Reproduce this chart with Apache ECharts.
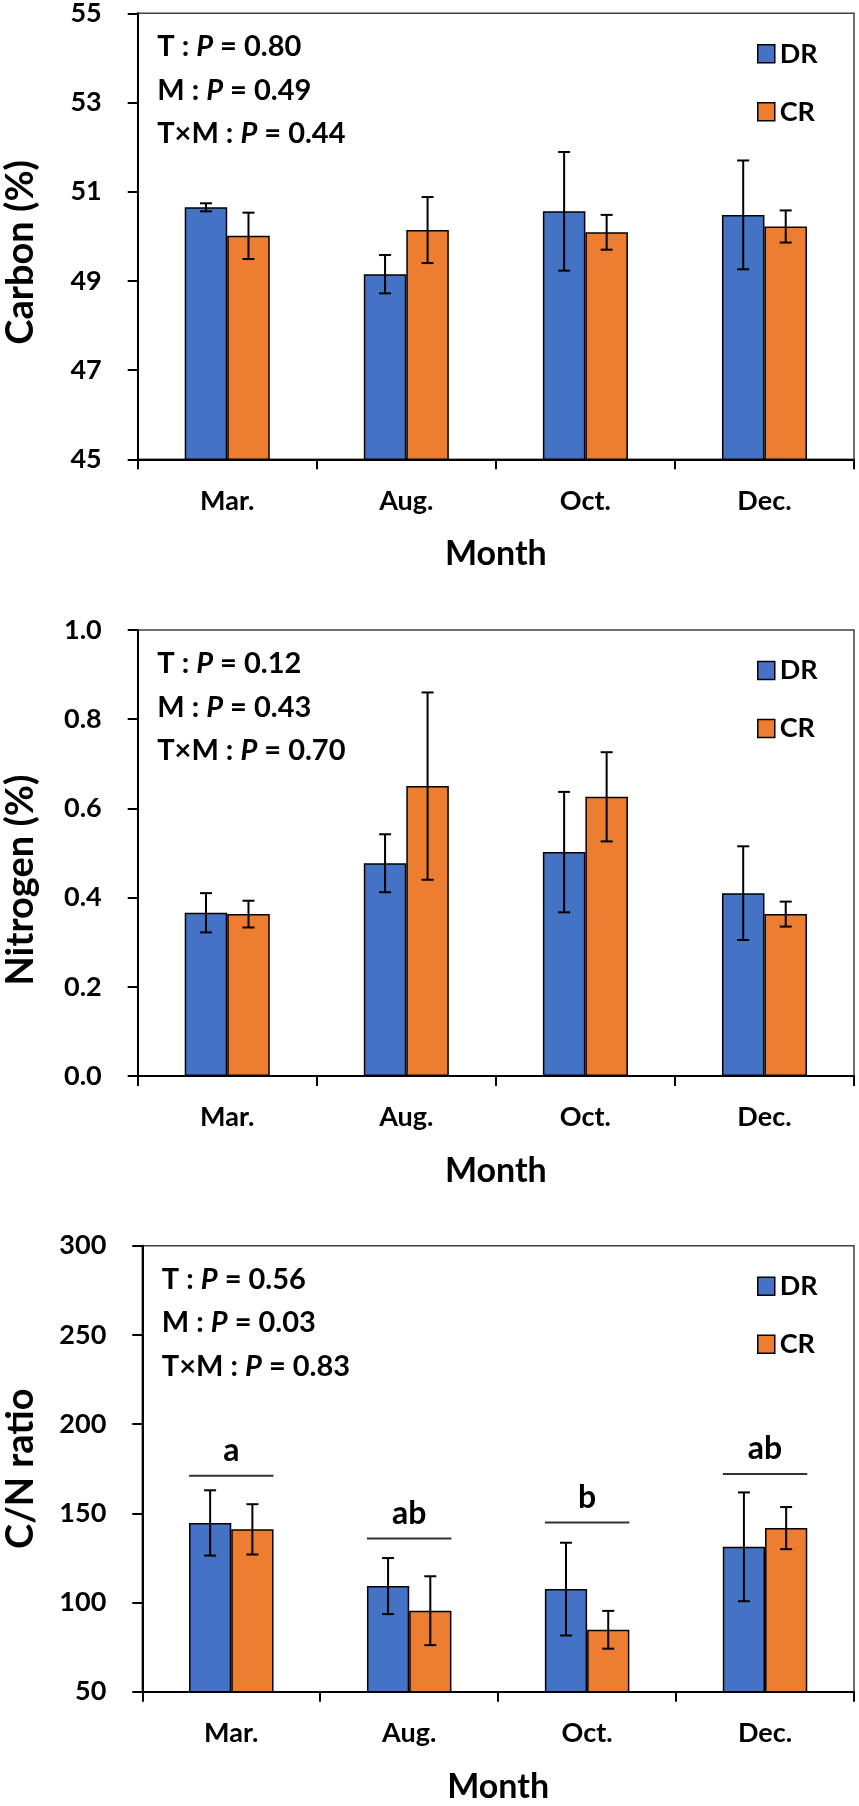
<!DOCTYPE html>
<html>
<head>
<meta charset="utf-8">
<script src="https://cdn.jsdelivr.net/npm/echarts@6/dist/echarts.min.js"></script>
<style>
html,body{margin:0;padding:0;background:#fff;}
#c{width:859px;height:1806px;}
</style>
</head>
<body>
<div id="c"></div>
<script>
// ---------- data ----------
const categories = ['Mar.', 'Aug.', 'Oct.', 'Dec.'];
const seriesNames = ['DR', 'CR'];

const carbonDR = [50.65, 49.15, 50.56, 50.48];
const carbonDRerr = [0.09, 0.43, 1.33, 1.22];
const carbonCR = [50.01, 50.14, 50.09, 50.22];
const carbonCRerr = [0.52, 0.74, 0.39, 0.36];

const nitrogenDR = [0.366, 0.477, 0.502, 0.410];
const nitrogenDRerr = [0.044, 0.065, 0.135, 0.105];
const nitrogenCR = [0.363, 0.650, 0.626, 0.363];
const nitrogenCRerr = [0.030, 0.210, 0.100, 0.028];

const cnDR = [144.6, 109.2, 107.5, 131.2];
const cnDRerr = [18.3, 15.7, 26.0, 30.5];
const cnCR = [141.0, 95.4, 84.7, 141.7];
const cnCRerr = [14.1, 19.3, 10.6, 11.8];

const cnLetters = ['a', 'ab', 'b', 'ab'];
const cnLetterLevel = [171.0, 135.9, 144.8, 172.0];

const statsCarbon = [['T', '0.80'], ['M', '0.49'], ['T×M', '0.44']];
const statsNitrogen = [['T', '0.12'], ['M', '0.43'], ['T×M', '0.70']];
const statsCN = [['T', '0.56'], ['M', '0.03'], ['T×M', '0.83']];

const yTitles = ['Carbon (%)', 'Nitrogen (%)', 'C/N ratio'];
const yMin = [45, 0, 50];
const yMax = [55, 1, 300];
const yInterval = [2, 0.2, 50];
const xTitle = 'Month';

// ---------- style ----------
const FONT = 'Lato';
const BLUE = '#4472C4';
const ORANGE = '#ED7D31';
const BAR_FRAC = 0.2374;
const panels = [
  {left: 137.7, top: 13.3, namePad: 32, nameGap: 98},
  {left: 137.7, top: 630, namePad: 54, nameGap: 98},
  {left: 142.3, top: 1245.7, namePad: 0, nameGap: 103}
];
const PLOT_H = 446;

const chart = echarts.init(document.getElementById('c'), null, {renderer: 'canvas'});

const grids = [], xAxes = [], yAxes = [], series = [], titles = [], legends = [];

function errSeries(values, errs, side, gi) {
  return {
    type: 'custom', xAxisIndex: gi, yAxisIndex: gi, z: 10, silent: true,
    data: values.map((v, i) => [i, v, errs[i]]),
    renderItem: (params, api) => {
      const i = api.value(0), v = api.value(1), e = api.value(2);
      const t = api.coord([i, v + e]);
      const b = api.coord([i, v - e]);
      const band = api.size([1, 0])[0];
      const x = t[0] + side * band * BAR_FRAC / 2;
      const cap = 6;
      const st = {stroke: '#000', lineWidth: 2};
      return {type: 'group', children: [
        {type: 'line', shape: {x1: x, y1: t[1], x2: x, y2: b[1]}, style: st},
        {type: 'line', shape: {x1: x - cap, y1: t[1], x2: x + cap, y2: t[1]}, style: st},
        {type: 'line', shape: {x1: x - cap, y1: b[1], x2: x + cap, y2: b[1]}, style: st}
      ]};
    }
  };
}

const allStats = [statsCarbon, statsNitrogen, statsCN];
const allData = [
  [carbonDR, carbonDRerr, carbonCR, carbonCRerr],
  [nitrogenDR, nitrogenDRerr, nitrogenCR, nitrogenCRerr],
  [cnDR, cnDRerr, cnCR, cnCRerr]
];

panels.forEach((p, gi) => {
  grids.push({
    left: p.left, top: p.top, right: 5, height: PLOT_H,
    show: true, borderColor: '#404040', borderWidth: 1.5,
    containLabel: false, outerBoundsMode: 'none'
  });
  xAxes.push({
    type: 'category', gridIndex: gi, data: categories,
    boundaryGap: true,
    axisLine: {lineStyle: {color: '#000', width: 2}},
    axisTick: {show: true, length: 10, alignWithLabel: false, interval: 0, lineStyle: {color: '#000', width: 2}},
    axisLabel: {interval: 0, margin: 28, color: '#000', fontFamily: FONT, fontWeight: 'bold', fontSize: 27, lineHeight: 27},
    name: xTitle, nameLocation: 'middle', nameGap: 78, nameMoveOverlap: false,
    nameTextStyle: {color: '#000', fontFamily: FONT, fontWeight: 'bold', fontSize: 34, lineHeight: 34},
    splitLine: {show: false}
  });
  yAxes.push({
    type: 'value', gridIndex: gi, min: yMin[gi], max: yMax[gi], interval: yInterval[gi],
    axisLine: {show: true, lineStyle: {color: '#000', width: 2}},
    axisTick: {show: true, length: 10, lineStyle: {color: '#000', width: 2}},
    axisLabel: {margin: 36, color: '#000', fontFamily: FONT, fontWeight: 'bold', fontSize: 27,
      formatter: gi === 1 ? (v => v.toFixed(1)) : (v => String(v))},
    splitLine: {show: false},
    name: yTitles[gi], nameLocation: 'middle', nameGap: p.nameGap, nameMoveOverlap: false,
    nameTextStyle: {color: '#000', fontFamily: FONT, fontWeight: 'bold', fontSize: 38, lineHeight: 38,
      padding: [0, p.namePad, 0, 0]}
  });
  const d = allData[gi];
  series.push({
    name: seriesNames[0], type: 'bar', xAxisIndex: gi, yAxisIndex: gi,
    data: d[0], barWidth: (BAR_FRAC * 100) + '%', barGap: '0%',
    itemStyle: {color: BLUE, borderColor: '#000', borderWidth: 1.5}, silent: true
  });
  series.push({
    name: seriesNames[1], type: 'bar', xAxisIndex: gi, yAxisIndex: gi,
    data: d[2], barWidth: (BAR_FRAC * 100) + '%', barGap: '0%',
    itemStyle: {color: ORANGE, borderColor: '#000', borderWidth: 1.5}, silent: true
  });
  series.push(errSeries(d[0], d[1], -1, gi));
  series.push(errSeries(d[2], d[3], 1, gi));

  titles.push({
    left: p.left + 19.5, top: p.top + 12, padding: 0,
    text: allStats[gi].map(([f, v]) => `{n|${f} : }{i|P}{n| = ${v}}`).join('\n'),
    textStyle: {
      fontFamily: FONT, fontWeight: 'bold', fontSize: 29, color: '#000', lineHeight: 43.5,
      rich: {
        n: {fontFamily: FONT, fontWeight: 'bold', fontSize: 29, color: '#000', lineHeight: 43.5},
        i: {fontFamily: FONT, fontWeight: 'bold', fontStyle: 'italic', fontSize: 29, color: '#000', lineHeight: 43.5}
      }
    }
  });
  legends.push({
    data: seriesNames, orient: 'vertical', left: 757, top: p.top + 40 - 13,
    padding: 0, itemGap: 31, itemWidth: 17, itemHeight: 18, icon: 'rect',
    selectedMode: false,
    itemStyle: {borderColor: '#000', borderWidth: 1.5},
    textStyle: {color: '#000', fontFamily: FONT, fontWeight: 'bold', fontSize: 27, lineHeight: 26}
  });
});

// significance letters for C/N panel
series.push({
  type: 'custom', xAxisIndex: 2, yAxisIndex: 2, z: 12, silent: true,
  data: cnLetterLevel.map((v, i) => [i, v, i]),
  renderItem: (params, api) => {
    const i = api.value(0), v = api.value(1);
    const c = api.coord([i, v]);
    const band = api.size([1, 0])[0];
    const half = band * BAR_FRAC;
    return {type: 'group', children: [
      {type: 'line', shape: {x1: c[0] - half, y1: c[1], x2: c[0] + half, y2: c[1]},
        style: {stroke: '#333', lineWidth: 2}},
      {type: 'text', x: c[0], y: c[1] - 9,
        style: {text: cnLetters[api.value(2)], fill: '#000', fontFamily: FONT, fontWeight: 'bold',
          fontSize: 32, align: 'center', verticalAlign: 'bottom'}}
    ]};
  }
});

chart.setOption({
  animation: false,
  backgroundColor: '#fff',
  title: titles,
  legend: legends,
  grid: grids,
  xAxis: xAxes,
  yAxis: yAxes,
  series: series
});
</script>
</body>
</html>
